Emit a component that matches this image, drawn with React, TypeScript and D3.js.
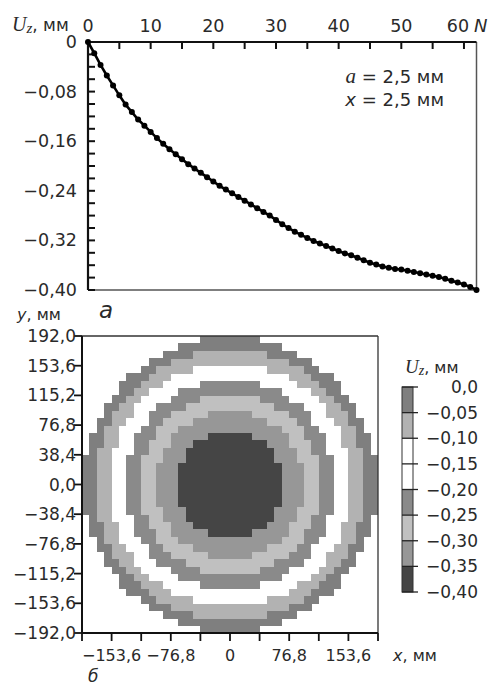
import React from "react";
import * as d3 from "d3";

// ---------- Data: top chart (U_z vs N at a = 2,5 мм, x = 2,5 мм) ----------
const uzByN: number[] = [
  0, -0.018, -0.037, -0.054, -0.07, -0.086, -0.101, -0.113, -0.125, -0.135,
  -0.145, -0.155, -0.164, -0.173, -0.181, -0.189, -0.197, -0.204, -0.211, -0.218,
  -0.225, -0.232, -0.238, -0.244, -0.25, -0.256, -0.262, -0.268, -0.274, -0.28,
  -0.287, -0.294, -0.3, -0.306, -0.311, -0.316, -0.321, -0.325, -0.329, -0.333,
  -0.337, -0.341, -0.344, -0.348, -0.352, -0.356, -0.359, -0.362, -0.364, -0.366,
  -0.367, -0.369, -0.371, -0.373, -0.375, -0.377, -0.379, -0.382, -0.385, -0.388,
  -0.391, -0.395, -0.4,
];
const topXTicks = [0, 10, 20, 30, 40, 50, 60];
const topXMinor = [0, 5, 10, 15, 20, 25, 30, 35, 40, 45, 50, 55, 60];
const topYTicks = [0, -0.08, -0.16, -0.24, -0.32, -0.4];
const topYMinor = [0, -0.02, -0.04, -0.06, -0.08, -0.1, -0.12, -0.14, -0.16, -0.18, -0.2, -0.22, -0.24, -0.26, -0.28, -0.3, -0.32, -0.34, -0.36, -0.38, -0.4];

// ---------- Data: bottom map ----------
const mapTicks = [-192, -153.6, -115.2, -76.8, -38.4, 0, 38.4, 76.8, 115.2, 153.6, 192];
const mapXLabels = [-153.6, -76.8, 0, 76.8, 153.6];
const gridCount = 40; // cells per side
// ring outer radii (mm), from the centre outward, with the colour band of each ring
const ringOuterR = [69, 97, 118, 136, 157, 175, 191];
const ringBand = [7, 6, 5, 4, 2, 1, 0];
// colour bar
const barEdges = [0, -0.05, -0.1, -0.15, -0.2, -0.25, -0.3, -0.35, -0.4];
const bandColors = ["#7f7f7f", "#b2b2b2", "#ffffff", "#ffffff", "#8a8a8a", "#c0c0c0", "#979797", "#454545"];

const FONT = "DejaVu Sans, sans-serif";
const SERIF = "Liberation Serif, serif";
const TXT = "#2a2a2a";

const fmt = (v: number, digits: number) => {
  if (v === 0) return digits === 0 ? "0" : (0).toFixed(digits).replace(".", ",");
  const s = Math.abs(v).toFixed(digits).replace(".", ",");
  return (v < 0 ? "\u2212" : "") + s;
};

export default function App() {
  // top chart scales
  const xT = d3.scaleLinear().domain([0, 62]).range([88, 476.5]);
  const yT = d3.scaleLinear().domain([-0.4, 0]).range([290, 42]);
  const line = d3
    .line<number>()
    .x((_, i) => xT(i))
    .y((d) => yT(d));

  // bottom map scales
  const xM = d3.scaleLinear().domain([-192, 192]).range([82, 378]);
  const yM = d3.scaleLinear().domain([-192, 192]).range([633, 336]);
  const step = 384 / gridCount;
  const cells: { x0: number; y0: number; band: number }[] = [];
  for (let i = 0; i < gridCount; i++) {
    for (let j = 0; j < gridCount; j++) {
      const x0 = -192 + i * step;
      const y0 = -192 + j * step;
      const r = Math.hypot(x0 + step / 2, y0 + step / 2);
      const k = ringOuterR.findIndex((R) => r < R);
      if (k >= 0) cells.push({ x0, y0, band: ringBand[k] });
    }
  }

  // colour bar scale
  const yB = d3.scaleLinear().domain([-0.4, 0]).range([592, 387]);
  const barX = 402;
  const barW = 11;

  return (
    <svg
      width={491}
      height={686}
      style={{ position: "absolute", left: 0, top: 0, background: "#fff" }}
      fontFamily={FONT}
    >
      <rect x={0} y={0} width={491} height={686} fill="#fff" />

      {/* ================= TOP CHART ================= */}
      <text x={12} y={31} fontSize={17} fill={TXT}>
        <tspan fontFamily={SERIF} fontStyle="italic" fontSize={20}>U</tspan>
        <tspan fontFamily={SERIF} fontStyle="italic" fontSize={15} dy={2}>z</tspan>
        <tspan dy={-2}>, мм</tspan>
      </text>

      {/* frame */}
      <line x1={xT(62)} y1={yT(0)} x2={xT(62)} y2={yT(-0.4)} stroke="#555" strokeWidth={1.5} />
      <line x1={xT(0)} y1={yT(-0.4)} x2={xT(62)} y2={yT(-0.4)} stroke="#555" strokeWidth={1.5} />
      <line x1={xT(0)} y1={yT(0)} x2={xT(62)} y2={yT(0)} stroke="#111" strokeWidth={2.2} />
      <line x1={xT(0)} y1={yT(0)} x2={xT(0)} y2={yT(-0.4)} stroke="#111" strokeWidth={2.2} />

      {topXMinor.map((t) => (
        <line key={"tx" + t} x1={xT(t)} x2={xT(t)} y1={yT(0)} y2={yT(0) + 7} stroke="#111" strokeWidth={2} />
      ))}
      {topXTicks.map((t) => (
        <text
          key={"txl" + t}
          x={t === 60 ? xT(t) - 6 : xT(t)}
          y={32}
          fontSize={17.5}
          textAnchor="middle"
          fill={TXT}
        >
          {String(t)}
        </text>
      ))}
      <text x={474} y={32} fontSize={18} fontStyle="italic" fill={TXT}>N</text>

      {topYMinor.map((t) => (
        <line key={"ty" + t} x1={xT(0)} x2={xT(0) + 7} y1={yT(t)} y2={yT(t)} stroke="#111" strokeWidth={2} />
      ))}
      {topYTicks.map((t) => (
        <text key={"tyl" + t} x={77} y={yT(t) + 6} fontSize={17.5} textAnchor="end" fill={TXT}>
          {t === 0 ? "0" : fmt(t, 2)}
        </text>
      ))}

      {/* curve */}
      <path d={line(uzByN) || ""} fill="none" stroke="#000" strokeWidth={2.6} />
      {uzByN.map((v, i) => (
        <circle key={"p" + i} cx={xT(i)} cy={yT(v)} r={3} fill="#000" />
      ))}

      {/* legend text */}
      <text x={444} y={83} fontSize={18} textAnchor="end" fill={TXT}>
        <tspan fontFamily={SERIF} fontStyle="italic" fontSize={21}>a</tspan>
        <tspan> = 2,5 мм</tspan>
      </text>
      <text x={444} y={106} fontSize={18} textAnchor="end" fill={TXT}>
        <tspan fontStyle="italic">x</tspan>
        <tspan> = 2,5 мм</tspan>
      </text>

      {/* sub-figure label а */}
      <text x={99} y={318} fontSize={23} fontStyle="italic" fill={TXT}>а</text>

      {/* ================= BOTTOM MAP ================= */}
      <text x={17} y={320} fontSize={16} fill={TXT}>
        <tspan fontStyle="italic">y</tspan>
        <tspan>, мм</tspan>
      </text>

      {cells.map((c, i) => (
        <rect
          key={"c" + i}
          x={xM(c.x0)}
          y={yM(c.y0 + step)}
          width={xM(c.x0 + step) - xM(c.x0) + 0.4}
          height={yM(c.y0) - yM(c.y0 + step) + 0.4}
          fill={bandColors[c.band]}
          shapeRendering="crispEdges"
        />
      ))}

      {/* map frame */}
      <line x1={xM(-192)} y1={yM(192)} x2={xM(192)} y2={yM(192)} stroke="#333" strokeWidth={1.3} />
      <line x1={xM(192)} y1={yM(192)} x2={xM(192)} y2={yM(-192)} stroke="#333" strokeWidth={1.3} />
      <line x1={xM(-192)} y1={yM(-192)} x2={xM(192)} y2={yM(-192)} stroke="#111" strokeWidth={2} />
      <line x1={xM(-192)} y1={yM(192)} x2={xM(-192)} y2={yM(-192)} stroke="#111" strokeWidth={2} />

      {mapTicks.map((t) => (
        <line key={"my" + t} x1={xM(-192) - 8} x2={xM(-192)} y1={yM(t)} y2={yM(t)} stroke="#111" strokeWidth={1.8} />
      ))}
      {mapTicks.map((t) => (
        <text key={"myl" + t} x={76} y={yM(t) + 6} fontSize={17} textAnchor="end" fill={TXT}>
          {fmt(t, 1)}
        </text>
      ))}
      {mapTicks.map((t) => (
        <line key={"mx" + t} x1={xM(t)} x2={xM(t)} y1={yM(-192)} y2={yM(-192) + 8} stroke="#111" strokeWidth={1.8} />
      ))}
      {mapXLabels.map((t) => (
        <text key={"mxl" + t} x={xM(t)} y={661} fontSize={16} textAnchor="middle" fill={TXT}>
          {t === 0 ? "0" : fmt(t, 1)}
        </text>
      ))}
      <text x={393} y={661} fontSize={16} fill={TXT}>
        <tspan fontStyle="italic">x</tspan>
        <tspan>, мм</tspan>
      </text>
      <text x={88} y={682} fontSize={17} fontStyle="italic" fill={TXT}>б</text>

      {/* ================= COLOUR BAR ================= */}
      <text x={405} y={373} fontSize={16} fill={TXT}>
        <tspan fontFamily={SERIF} fontStyle="italic" fontSize={19}>U</tspan>
        <tspan fontFamily={SERIF} fontStyle="italic" fontSize={14} dy={2}>z</tspan>
        <tspan dy={-2}>, мм</tspan>
      </text>
      {bandColors.map((col, i) => (
        <rect
          key={"b" + i}
          x={barX}
          y={yB(barEdges[i])}
          width={barW}
          height={yB(barEdges[i + 1]) - yB(barEdges[i])}
          fill={col}
        />
      ))}
      <rect x={barX} y={yB(0)} width={barW} height={yB(-0.4) - yB(0)} fill="none" stroke="#333" strokeWidth={1} />
      {barEdges.map((t) => (
        <line key={"bt" + t} x1={barX} x2={barX + barW + 5} y1={yB(t)} y2={yB(t)} stroke="#222" strokeWidth={1.3} />
      ))}
      {barEdges.map((t) => (
        <text key={"btl" + t} x={478} y={yB(t) + 6} fontSize={17} textAnchor="end" fill={TXT}>
          {fmt(t, t === 0 ? 1 : 2)}
        </text>
      ))}
    </svg>
  );
}
